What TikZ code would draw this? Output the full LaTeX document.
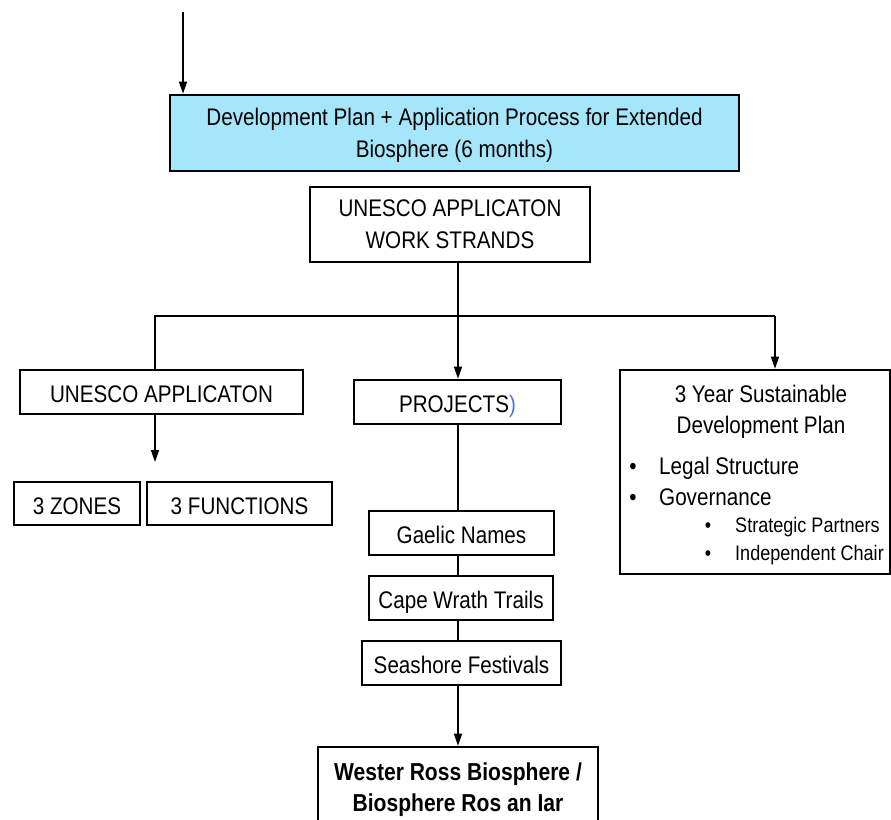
\documentclass[tikz,border=0pt]{standalone}
\usepackage{fontspec}
\setmainfont{Liberation Sans}[FakeStretch=0.86]
\usetikzlibrary{arrows.meta}
\definecolor{boxblue}{RGB}{166,230,250}
\definecolor{parblue}{RGB}{70,120,230}
\begin{document}
\begin{tikzpicture}[x=1pt,y=-1pt,
  box/.style={draw, line width=2.6pt, inner sep=0pt, align=center, text depth=0pt,
    font=\fontsize{24}{32}\selectfont},
  one/.style={box, text height=21pt},
  txt/.style={inner sep=0pt, align=center, font=\fontsize{24}{31}\selectfont},
  small/.style={font=\fontsize{21}{26}\selectfont},
  conn/.style={line width=1.4pt},
  arr/.style={conn, -{Triangle[width=8pt,length=12pt]}}]
\useasboundingbox (0,0) rectangle (891,819);
\clip (0,0) rectangle (891,819);
% boxes
\node[box, fill=boxblue, minimum width=569, minimum height=76] (dp) at (454.5,133)
  {Development Plan + Application Process for Extended\\Biosphere (6 months)};
\node[box, minimum width=280, minimum height=75] (ws) at (450,224.5)
  {UNESCO APPLICATON\\WORK STRANDS};
\node[one, minimum width=283, minimum height=44] (ua) at (161.5,392) {UNESCO APPLICATON};
\node[one, minimum width=126, minimum height=43] (zn) at (77,503.5) {3 ZONES};
\node[one, minimum width=185, minimum height=43] (fn) at (239.5,503.5) {3 FUNCTIONS};
\node[one, minimum width=207, minimum height=44] (pr) at (457.5,402) {PROJECTS\textcolor{parblue}{)}};
\node[one, minimum width=185, minimum height=44] (gn) at (461.5,533) {Gaelic Names};
\node[one, minimum width=184, minimum height=44] (cw) at (461,598) {Cape Wrath Trails};
\node[one, minimum width=199, minimum height=44] (sf) at (461.5,663) {Seashore Festivals};
\node[box, minimum width=280, minimum height=93] (wr) at (458,793.5) {};
\node[txt, font=\fontsize{24.5}{31}\selectfont\bfseries] (wrt) at (458,789.5)
  {Wester Ross Biosphere /\\Biosphere Ros an Iar};
\node[box, minimum width=270, minimum height=204] (yp) at (755,472) {};
\node[txt] (ypt) at (761,412) {3 Year Sustainable\\Development Plan};
\node[txt, anchor=base] (b1) at (633,474) {•};
\node[txt, anchor=base west] (l1) at (659,474) {Legal Structure};
\node[txt, anchor=base] (b2) at (633,505) {•};
\node[txt, anchor=base west] (l2) at (659,505) {Governance};
\node[txt, small, anchor=base] (b3) at (708,532) {•};
\node[txt, small, anchor=base west] (l3) at (735,532) {Strategic Partners};
\node[txt, small, anchor=base] (b4) at (708,560) {•};
\node[txt, small, anchor=base west] (l4) at (735,560) {Independent Chair};
% connectors
\coordinate (top) at (183,12);
\coordinate (j) at (458,316);
\coordinate (jl) at (155,316);
\coordinate (jr) at (775,316);
\coordinate (ue) at (155,462);
\draw[arr] (top) -- (dp.north -| top);
\draw[conn] (ws.south -| j) -- (j);
\draw[conn] (ua.north -| jl) -- (jl) -- (jr);
\draw[arr] (jr) -- (yp.north -| jr);
\draw[arr] (j) -- (pr.north -| j);
\draw[arr] (ua.south -| ue) -- (ue);
\draw[conn] (pr.south -| j) -- (gn.north -| j);
\draw[conn] (gn.south -| j) -- (cw.north -| j);
\draw[conn] (cw.south -| j) -- (sf.north -| j);
\draw[arr] (sf.south -| j) -- (wr.north -| j);
\end{tikzpicture}
\end{document}
